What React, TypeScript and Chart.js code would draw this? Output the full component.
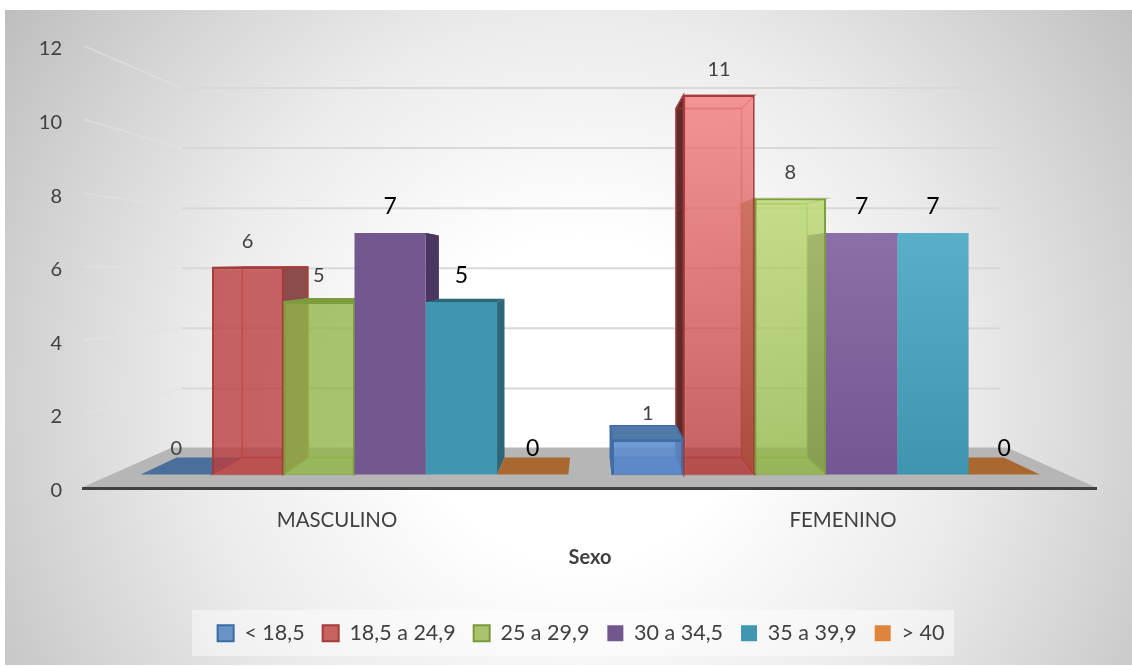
import React, { useEffect, useRef } from "react";
import { Chart, registerables } from "chart.js";

Chart.register(...registerables);

// Counts per BMI band, one entry per sex
const categories = ["MASCULINO", "FEMENINO"];
const bandNames = ["< 18,5", "18,5 a 24,9", "25 a 29,9", "30 a 34,5", "35 a 39,9", "> 40"];
const under18 = [0, 1];
const from18to24 = [6, 11];
const from25to29 = [5, 8];
const from30to34 = [7, 7];
const from35to39 = [5, 7];
const over40 = [0, 0];
const bandValues = [under18, from18to24, from25to29, from30to34, from35to39, over40];
const yTicksMax = 12;

type Tone = {
  flat: string;
  gradTop: string;
  gradBottom: string;
  border: string;
  side: [string, string];
  lid: [string | null, string | null];
  floor: string;
  swatch: string;
  swatchBorder: string;
  glassy: boolean;
  labelColor: string;
  labelSize: number;
};

const tones: Tone[] = [
  { flat: "rgba(64,116,182,0.8)", gradTop: "rgba(92,142,208,0.88)", gradBottom: "rgba(88,136,202,0.88)", border: "#3E6CA4", side: ["#4A76AE", "#4A76AE"], lid: [null, "#527AA8"], floor: "#4A6F9B", swatch: "#6A94C8", swatchBorder: "#3A6CA6", glassy: true, labelColor: "#404040", labelSize: 20 },
  { flat: "rgba(186,61,61,0.8)", gradTop: "rgba(245,124,124,0.8)", gradBottom: "rgba(181,56,56,0.8)", border: "#A63C3A", side: ["#8C4C4C", "#5E2B2B"], lid: ["#8C4C4C", null], floor: "rgba(186,61,61,0.25)", swatch: "#C86460", swatchBorder: "#A33C3A", glassy: true, labelColor: "#404040", labelSize: 20 },
  { flat: "rgba(146,182,74,0.8)", gradTop: "rgba(184,216,109,0.8)", gradBottom: "rgba(144,180,69,0.8)", border: "#7E9E3E", side: ["#7C9A42", "#7F9A4A"], lid: ["#7C9A42", null], floor: "rgba(146,182,74,0.25)", swatch: "#A9C46C", swatchBorder: "#7A9A3A", glassy: true, labelColor: "#404040", labelSize: 20 },
  { flat: "#73588F", gradTop: "#8C6EA8", gradBottom: "#745792", border: "#73588F", side: ["#4A3660", "#5E4678"], lid: ["#4A3660", "#5E4678"], floor: "#5E4678", swatch: "#72578F", swatchBorder: "#72578F", glassy: false, labelColor: "#000000", labelSize: 23 },
  { flat: "#4096B0", gradTop: "#59AEC8", gradBottom: "#3F94AF", border: "#4096B0", side: ["#2C6677", "#2C6677"], lid: ["#2C6677", "#2C6677"], floor: "#2C6677", swatch: "#4197B1", swatchBorder: "#4197B1", glassy: false, labelColor: "#000000", labelSize: 23 },
  { flat: "#DE843C", gradTop: "#DE843C", gradBottom: "#DE843C", border: "#DE843C", side: ["#A9682F", "#A9682F"], lid: [null, null], floor: "#A9682F", swatch: "#DE843C", swatchBorder: "#DE843C", glassy: false, labelColor: "#000000", labelSize: 23 },
];

const FONT = "Lato, 'Noto Sans', sans-serif";
const DEPTH = 0.92;
const VANISH_X = 590;
const VANISH_Y = 262;

// Maps a point on the front plane of the bars to their rear plane
const toRear = (x: number, y: number): [number, number] => [
  VANISH_X + DEPTH * (x - VANISH_X),
  VANISH_Y + DEPTH * (y - VANISH_Y),
];

function poly(ctx: CanvasRenderingContext2D, pts: [number, number][], fill: string | null, stroke?: string, lw = 1.5) {
  ctx.beginPath();
  pts.forEach(([x, y], i) => (i ? ctx.lineTo(x, y) : ctx.moveTo(x, y)));
  ctx.closePath();
  if (fill) {
    ctx.fillStyle = fill;
    ctx.fill();
  }
  if (stroke) {
    ctx.strokeStyle = stroke;
    ctx.lineWidth = lw;
    ctx.stroke();
  }
}

const backdrop = {
  id: "backdrop",
  afterLayout(chart: Chart) {
    // the legend sits right of the canvas centre
    const legend = chart.legend as any;
    legend.left += 33;
    legend.right += 33;
  },
  beforeDraw(chart: Chart) {
    const { ctx, width, height } = chart;
    ctx.save();
    ctx.fillStyle = "#ffffff";
    ctx.fillRect(0, 0, width, height);
    ctx.beginPath();
    ctx.rect(5, 10, width - 5, height - 12);
    ctx.clip();
    const g = ctx.createRadialGradient(580, 400, 0, 580, 400, 700);
    g.addColorStop(0, "#ffffff");
    g.addColorStop(0.23, "#ffffff");
    g.addColorStop(0.55, "#ebebeb");
    g.addColorStop(0.8, "#d2d2d2");
    g.addColorStop(1, "#bdbdbd");
    ctx.fillStyle = g;
    ctx.fillRect(0, 0, width, height);
    ctx.restore();

    // translucent panel behind the legend
    ctx.save();
    ctx.fillStyle = "rgba(255,255,255,0.45)";
    ctx.fillRect(192, 610, 762, 46);
    ctx.restore();
  },
};

const scene3d = {
  id: "scene3d",
  beforeDatasetsDraw(chart: Chart) {
    const { ctx, chartArea } = chart;
    const front = chart.scales.y;
    const rear = chart.scales.yBack;
    const floorY = front.getPixelForValue(0) - 2;
    ctx.save();

    // wall lines: rear plane plus the receding left wall
    ctx.lineWidth = 2;
    (front.ticks as { value: number }[]).forEach(({ value }) => {
      if (value === 0) return;
      const yF = front.getPixelForValue(value);
      const yB = rear.getPixelForValue(value);
      ctx.strokeStyle = "rgba(226,226,226,0.55)";
      ctx.beginPath();
      ctx.moveTo(chartArea.left, yF - 3);
      ctx.lineTo(182, yB);
      ctx.stroke();
      ctx.strokeStyle = "#d8d8d8";
      ctx.beginPath();
      ctx.moveTo(182, yB);
      ctx.lineTo(1000, yB);
      ctx.stroke();
    });

    // floor and front edge
    const floorBack = rear.getPixelForValue(0);
    poly(ctx, [
      [172, floorBack - 1],
      [1007, floorBack - 1],
      [chartArea.right, floorY - 1],
      [chartArea.left - 2, floorY - 1],
    ], "#b6b6b6");
    ctx.strokeStyle = "#404040";
    ctx.lineWidth = 3;
    ctx.beginPath();
    ctx.moveTo(chartArea.left - 2, floorY);
    ctx.lineTo(chartArea.right + 1, floorY);
    ctx.stroke();

    // rear, floor, side and top faces of each bar; Chart.js then paints the front faces
    const order = (idx: number) =>
      idx === 0 ? [0, 1, 2, 3, 4, 5] : [5, 4, 3, 2, 1, 0];
    categories.forEach((_, cat) => {
      order(cat).forEach((band) => {
        const el = chart.getDatasetMeta(band).data[cat] as any;
        const tone = tones[band];
        const x0 = el.x - el.width / 2;
        const x1 = el.x + el.width / 2;
        const top = el.y;
        const base = el.base;
        const A = toRear(x0, top);
        const B = toRear(x1, top);
        const C = toRear(x1, base);
        const D = toRear(x0, base);
        const edge = tone.glassy ? tone.border : undefined;

        if (bandValues[band][cat] === 0) {
          poly(ctx, [[x0, base], [x1, base], C, D], tone.floor);
          return;
        }
        // edges inside the glass read fainter than the outline
        if (tone.glassy) {
          ctx.globalAlpha = 0.55;
          poly(ctx, [A, B, C, D], null, edge);
          poly(ctx, [[x0, base], [x1, base], C, D], tone.floor, edge);
          ctx.globalAlpha = 1;
        }
        const outerRight = cat === 0;
        const sideFill = tone.side[cat];
        if (outerRight) {
          poly(ctx, [[x1, top], B, C, [x1, base]], sideFill, edge);
        } else {
          poly(ctx, [[x0, top], A, D, [x0, base]], sideFill, edge);
        }
        const lid = tone.lid[cat];
        if (tone.glassy) ctx.globalAlpha = lid ? 1 : 0.55;
        poly(ctx, [[x0, top], [x1, top], B, A], lid, edge);
        ctx.globalAlpha = 1;
      });
    });
    ctx.restore();
  },
  afterDatasetsDraw(chart: Chart) {
    const { ctx } = chart;
    ctx.save();
    ctx.textAlign = "center";
    ctx.textBaseline = "middle";
    bandValues.forEach((values, band) => {
      const tone = tones[band];
      const meta = chart.getDatasetMeta(band);
      values.forEach((v, cat) => {
        const el = meta.data[cat] as any;
        ctx.fillStyle = tone.labelColor;
        ctx.font = `${tone.labelSize}px ${FONT}`;
        ctx.fillText(String(v), el.x, el.y - 26);
      });
    });
    ctx.restore();
  },
};

export default function App() {
  const ref = useRef<HTMLCanvasElement>(null);

  useEffect(() => {
    document.body.style.margin = "0";
    const canvas = ref.current!;
    const chart = new Chart(canvas, {
      type: "bar",
      data: {
        labels: categories,
        datasets: bandValues.map((values, band) => ({
          label: bandNames[band],
          data: values.map((y, x) => ({ x, y })),
          xAxisID: "xBars",
          yAxisID: "yBars",
          borderWidth: tones[band].glassy ? 2 : 0,
          borderColor: tones[band].border,
          categoryPercentage: 0.907,
          barPercentage: 1,
          backgroundColor: (c: any) => {
            const tone = tones[band];
            if (c.type !== "data" || c.dataIndex === 0) return tone.flat;
            const yS = c.chart.scales.yBars;
            const g = c.chart.ctx.createLinearGradient(0, yS.getPixelForValue(values[c.dataIndex]), 0, yS.getPixelForValue(0));
            g.addColorStop(0, tone.gradTop);
            g.addColorStop(1, tone.gradBottom);
            return g;
          },
        })),
      },
      options: {
        responsive: false,
        animation: false,
        layout: { padding: { top: 49, left: 0, right: 36, bottom: 13 } },
        scales: {
          x: {
            type: "category",
            position: "bottom",
            offset: true,
            grid: { display: false },
            border: { display: false },
            ticks: { padding: 10, color: "#404040", font: { size: 20.4, family: FONT }, maxRotation: 0 },
            title: {
              display: true,
              text: "Sexo",
              color: "#404040",
              font: { size: 20, weight: "bold", family: FONT },
              padding: { top: 0, bottom: 35 },
            },
            afterFit: (s: any) => {
              s.height = 114;
            },
          },
          xBars: {
            type: "linear",
            display: false,
            offset: false,
            // bars occupy a narrower span than the front edge of the floor
            min: -0.5737,
            max: 1.5726,
            ticks: { stepSize: 1, includeBounds: false },
          },
          y: {
            type: "linear",
            position: "left",
            min: 0,
            max: yTicksMax,
            grid: { display: false },
            border: { display: false },
            ticks: { stepSize: 2, padding: 14, color: "#404040", font: { size: 20, family: FONT } },
            afterFit: (s: any) => {
              s.width = 84;
            },
          },
          yBars: {
            type: "linear",
            display: false,
            min: -0.4644,
            max: 12.337,
          },
          yBack: {
            type: "linear",
            display: false,
            min: -1.4,
            max: 13.3,
          },
        },
        plugins: {
          legend: {
            position: "bottom",
            labels: {
              boxWidth: 16,
              boxHeight: 16,
              padding: 18,
              color: "#404040",
              font: { size: 21.5, family: FONT },
              generateLabels: () =>
                bandNames.map((text, i) => ({
                  text,
                  datasetIndex: i,
                  fillStyle: tones[i].swatch,
                  strokeStyle: tones[i].swatchBorder,
                  lineWidth: tones[i].glassy ? 2 : 0,
                  fontColor: "#404040",
                })),
            },
          },
          tooltip: { enabled: false },
        },
      } as any,
      plugins: [backdrop, scene3d],
    });
    return () => chart.destroy();
  }, []);

  return <canvas ref={ref} width={1132} height={667} style={{ display: "block" }} />;
}
